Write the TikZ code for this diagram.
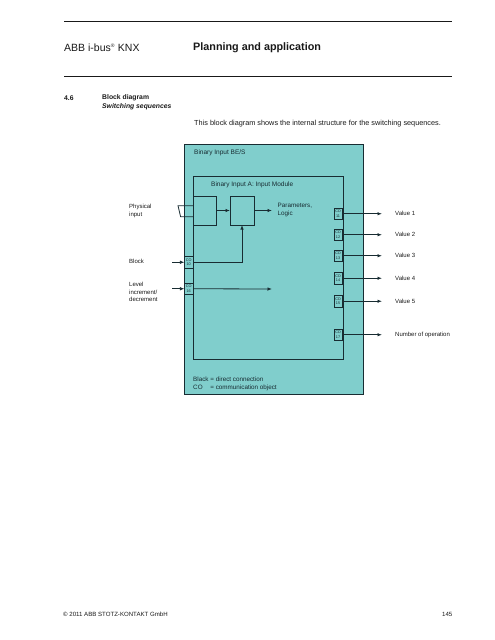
\documentclass[tikz,border=0pt]{standalone}
\usepackage{fontspec}
\setmainfont{Liberation Sans}
\usetikzlibrary{arrows.meta,calc}
\definecolor{teal1}{RGB}{128,206,204}
\definecolor{edge}{RGB}{24,44,50}
\definecolor{ink}{RGB}{25,25,25}
\tikzset{
  box/.style={draw=edge,line width=0.9pt,anchor=north west,inner sep=0pt,outer sep=0pt},
  cobox/.style={draw=edge,line width=0.6pt,anchor=north west,inner sep=0pt,outer sep=0pt,
    minimum width=8.6pt,minimum height=11.5pt,align=center,text=edge,
    font=\fontsize{3.8}{4.2}\selectfont},
  lbl/.style={anchor=west,inner sep=0pt,text=ink,font=\fontsize{6}{7.6}\selectfont,align=left},
  dlbl/.style={anchor=west,inner sep=0pt,text=edge,font=\fontsize{6.5}{7.8}\selectfont,align=left},
  conn/.style={draw=edge,line width=0.8pt},
  arr/.style={conn,-{Latex[length=4.5pt,width=3.5pt]}},
}
\begin{document}
\begin{tikzpicture}[x=1pt,y=-1pt]
\useasboundingbox (0,0) rectangle (495,640);
% header
\coordinate (l1a) at (64,21); \coordinate (l1b) at (452,21);
\coordinate (l2a) at (64,76); \coordinate (l2b) at (452,76);
\draw[line width=0.9pt,ink] (l1a) -- (l1b);
\draw[line width=0.9pt,ink] (l2a) -- (l2b);
\node[anchor=west,inner sep=0pt,text=ink,font=\fontsize{10.5}{12}\selectfont] (hdr) at (64,48) {ABB i-bus\textsuperscript{\tiny\textregistered} KNX};
\node[anchor=west,inner sep=0pt,text=ink,font=\fontsize{10.8}{12}\selectfont\bfseries] (title) at (193,48) {Planning and application};
\node[anchor=west,inner sep=0pt,text=ink,font=\fontsize{6.8}{8}\selectfont\bfseries] (sec) at (64,98) {4.6};
\node[anchor=north west,inner sep=0pt,text=ink,font=\fontsize{6.8}{8.4}\selectfont,align=left] (sect) at (102,94.5) {\textbf{Block diagram}\\\textbf{\itshape Switching sequences}};
\node[anchor=west,inner sep=0pt,text=ink,font=\fontsize{7.3}{8.5}\selectfont] (intro) at (194,124) {This block diagram shows the internal structure for the switching sequences.};
% boxes
\node[box,fill=teal1,minimum width=179pt,minimum height=250pt] (outer) at (184,144) {};
\node[box,minimum width=150pt,minimum height=183pt] (inner) at (193,176) {};
\node[dlbl] (outerlbl) at (194,153) {Binary Input BE/S};
\node[dlbl] (innerlbl) at (211,185) {Binary Input A: Input Module};
\node[box,minimum width=23.5pt,minimum height=29pt] (b1) at (193,196) {};
\node[box,minimum width=24pt,minimum height=29pt] (b2) at (230,196) {};
\node[dlbl,font=\fontsize{6.3}{8}\selectfont] (param) at (277.5,210) {Parameters,\\Logic};
% CO boxes left
\node[cobox] (co10) at (184.4,256.5) {CO\\10};
\node[cobox] (co16) at (184.4,283) {CO\\16};
% CO boxes right
\node[cobox] (co11) at (333.8,208) {CO\\11};
\node[cobox] (co12) at (333.8,229) {CO\\12};
\node[cobox] (co13) at (333.8,250) {CO\\13};
\node[cobox] (co14) at (333.8,272.5) {CO\\14};
\node[cobox] (co15) at (333.8,295.5) {CO\\15};
\node[cobox] (co17) at (333.8,329) {CO\\17};
% physical input symbol
\draw[conn] ($(b1.north west)+(0,9.7)$) -- ++(-15,0) -- ++(2.6,11) -- ($(b1.north west)+(0,20.7)$);
% internal connectors
\draw[arr] (b1.east) -- (b2.west);
\coordinate (plog) at (272,210.5);
\draw[arr] (b2.east) -- (plog);
\draw[arr] (co10.east) -| (b2.south);
\coordinate (lvl) at (272,289);
\draw[arr] (co16.east) -- (lvl);
% left inputs
\coordinate (in10) at (172,262.25);
\coordinate (in16) at (172,288.75);
\draw[arr] (in10) -- (co10.west);
\draw[arr] (in16) -- (co16.west);
\node[lbl] (physlbl) at (129,211) {Physical\\input};
\node[lbl] (blocklbl) at (129,261) {Block};
\node[lbl] (levellbl) at (129,292) {Level\\increment/\\decrement};
% outputs
\foreach \c/\t in {co11/Value 1,co12/Value 2,co13/Value 3,co14/Value 4,co15/Value 5,co17/Number of operation}{
  \coordinate (\c end) at (382,0 |- \c.east);
  \draw[arr] (\c.east) -- (\c end);
  \node[lbl] (\c lbl) at ($(\c end)+(13,0)$) {\t};
}
% legend
\node[dlbl,font=\fontsize{6.3}{8}\selectfont] (legend) at (193,384) {Black = direct connection\\CO\hspace{6pt} = communication object};
% footer
\node[anchor=west,inner sep=0pt,text=ink,font=\fontsize{6.1}{7}\selectfont] (foot) at (63,614) {\textcopyright{} 2011 ABB STOTZ-KONTAKT GmbH};
\node[anchor=east,inner sep=0pt,text=ink,font=\fontsize{6.1}{7}\selectfont] (page) at (452.5,614) {145};
\end{tikzpicture}
\end{document}
